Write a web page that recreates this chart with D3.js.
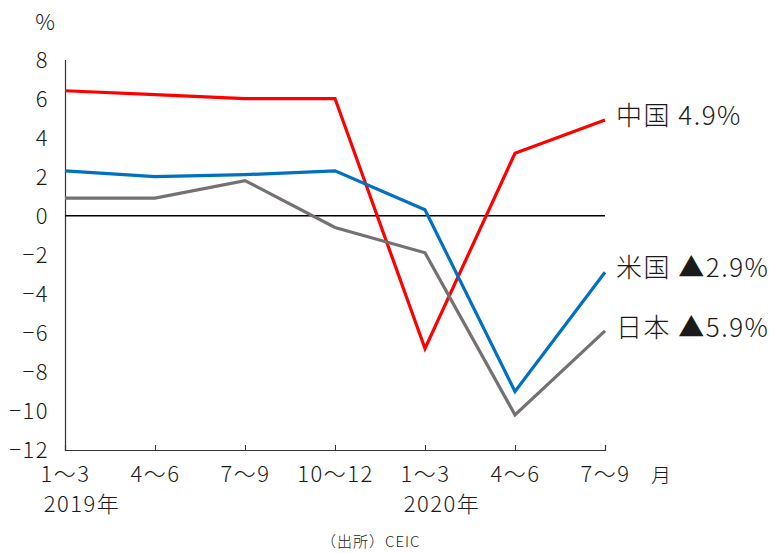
<!DOCTYPE html>
<html>
<head>
<meta charset="utf-8">
<script src="https://cdn.jsdelivr.net/npm/d3@7"></script>
<style>
  html, body { margin: 0; padding: 0; background: #fff; }
  svg text { font-family: "Noto Sans CJK JP", "Noto Sans", sans-serif; font-weight: 300; fill: #1a1a1a; }
</style>
</head>
<body>
<svg id="chart" width="774" height="553"></svg>
<script>
// Quarterly real GDP growth, year over year (%)
const quarters = ["1～3", "4～6", "7～9", "10～12", "1～3", "4～6", "7～9"];
const yearLabels = [{ index: 0, text: "2019年" }, { index: 4, text: "2020年" }];
const china = [6.4, 6.2, 6.0, 6.0, -6.8, 3.2, 4.9];
const usa = [2.3, 2.0, 2.1, 2.3, 0.3, -9.0, -2.9];
const japan = [0.9, 0.9, 1.8, -0.6, -1.9, -10.2, -5.9];
const yTicks = [8, 6, 4, 2, 0, -2, -4, -6, -8, -10, -12];

const series = [
  { name: "中国", values: china, color: "#ff0000", label: "中国 4.9%" },
  { name: "米国", values: usa, color: "#0070c0", label: "米国 ▲2.9%" },
  { name: "日本", values: japan, color: "#767171", label: "日本 ▲5.9%" }
];

const svg = d3.select("#chart");
const plotLeft = 65, plotRight = 605, plotTop = 59.5, plotBottom = 450;

const x = d3.scalePoint().domain(d3.range(quarters.length)).range([plotLeft, plotRight]);
const y = d3.scaleLinear().domain([-12, 8]).range([plotBottom, plotTop]);

// y axis: line plus labels, no tick marks
const yAxis = svg.append("g").attr("transform", `translate(${plotLeft},0)`)
  .call(d3.axisLeft(y).tickValues(yTicks).tickSize(0).tickPadding(16).tickFormat(d3.format("d")));
yAxis.select(".domain").attr("stroke", "#333").attr("stroke-width", 1.2);
yAxis.selectAll("text").attr("font-size", 22).attr("letter-spacing", 1.5)
  .attr("fill", "#1a1a1a").attr("dy", "0.36em");

// x axis with short upward ticks
const xAxis = svg.append("g").attr("transform", `translate(0,${plotBottom})`)
  .call(d3.axisBottom(x).tickSize(-5).tickPadding(12).tickFormat(i => quarters[i]));
xAxis.select(".domain").attr("stroke", "#333").attr("stroke-width", 1.2);
xAxis.selectAll(".tick line").attr("stroke", "#333");
xAxis.selectAll("text").attr("font-size", 22).attr("letter-spacing", 1.5)
  .attr("fill", "#1a1a1a").attr("dy", "0.9em");

// zero line
svg.append("line")
  .attr("x1", plotLeft).attr("x2", plotRight)
  .attr("y1", y(0)).attr("y2", y(0))
  .attr("stroke", "#000").attr("stroke-width", 1.5);

// series lines
const line = d3.line().x((d, i) => x(i)).y(d => y(d));
svg.selectAll("path.series").data(series).join("path")
  .attr("class", "series")
  .attr("d", d => line(d.values))
  .attr("fill", "none")
  .attr("stroke", d => d.color)
  .attr("stroke-width", 3.2)
  .attr("stroke-linejoin", "miter");

// end labels
const labelY = { "中国": 116, "米国": 268, "日本": 328 };
svg.selectAll("text.end").data(series).join("text")
  .attr("class", "end")
  .attr("x", 616)
  .attr("y", d => labelY[d.name])
  .attr("dy", "0.36em")
  .attr("font-size", 26)
  .attr("font-weight", 400)
  .attr("letter-spacing", 1.5)
  .text(d => d.label);

// year labels
svg.selectAll("text.year").data(yearLabels).join("text")
  .attr("class", "year")
  .attr("x", d => x(d.index) + 17)
  .attr("y", 504)
  .attr("dy", "0.36em")
  .attr("text-anchor", "middle")
  .attr("font-size", 22)
  .attr("letter-spacing", 1.5)
  .text(d => d.text);

// unit labels
svg.append("text").attr("x", 45).attr("y", 22).attr("dy", "0.36em")
  .attr("text-anchor", "middle").attr("font-size", 22).text("%");
svg.append("text").attr("x", 661).attr("y", 476).attr("dy", "0.36em")
  .attr("text-anchor", "middle").attr("font-size", 20).text("月");

// source note
svg.append("text").attr("x", 321).attr("y", 542).attr("dy", "0.36em")
  .attr("font-size", 15).attr("letter-spacing", 1).text("（出所）CEIC");
</script>
</body>
</html>
